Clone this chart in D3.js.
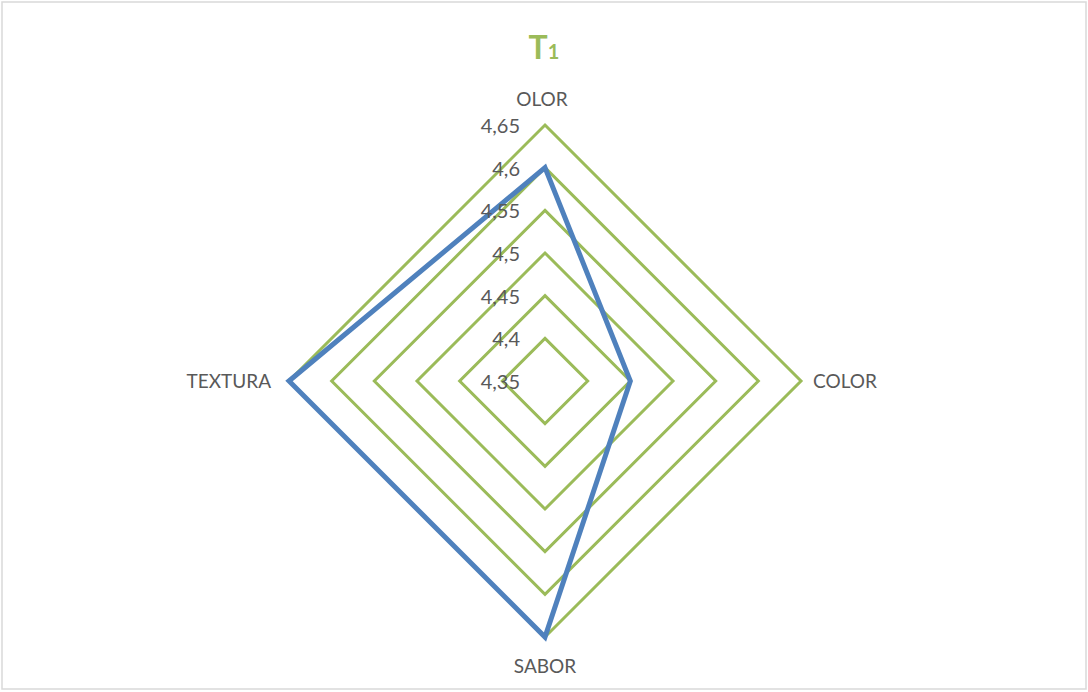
<!DOCTYPE html>
<meta charset="utf-8">
<head>
  <title>T1 radar</title>
</head>

<style>
body { margin: 0; background: white; }
text {
  font-family: Lato, "Open Sans", sans-serif;
  fill: #595959;
}
</style>

<body>
  <svg width="1088" height="692"></svg>

  <script src="https://cdnjs.cloudflare.com/ajax/libs/d3/7.8.5/d3.min.js"></script>
  <script>
var categories = ["OLOR", "COLOR", "SABOR", "TEXTURA"];
var values = [4.6, 4.45, 4.65, 4.65];
var ticks = [4.35, 4.4, 4.45, 4.5, 4.55, 4.6, 4.65];
var tickLabels = ["4,35", "4,4", "4,45", "4,5", "4,55", "4,6", "4,65"];

var svg = d3.select("svg");
var cx = 545, cy = 381, radius = 256;

// chart area border
svg.append("rect")
  .attr("x", 2).attr("y", 2)
  .attr("width", 1084).attr("height", 687)
  .attr("fill", "none")
  .attr("stroke", "#d9d9d9")
  .attr("stroke-width", 1.5);

var r = d3.scaleLinear().domain([4.35, 4.65]).range([0, radius]);
var angle = d3.scalePoint().domain(categories).range([0, 2 * Math.PI * 3 / 4]);

function pt(cat, v) {
  var a = angle(cat);
  return [cx + r(v) * Math.sin(a), cy - r(v) * Math.cos(a)];
}

var line = d3.line().curve(d3.curveLinearClosed);

// grid rings (no ring at the minimum)
svg.append("g")
  .selectAll("path")
  .data(ticks.slice(1))
  .enter()
  .append("path")
  .attr("d", function(t) { return line(categories.map(function(c) { return pt(c, t); })); })
  .attr("fill", "none")
  .attr("stroke", "#9bbb59")
  .attr("stroke-width", 3);

// data series
svg.append("path")
  .attr("d", line(categories.map(function(c, i) { return pt(c, values[i]); })))
  .attr("fill", "none")
  .attr("stroke", "#4f81bd")
  .attr("stroke-width", 5);

// tick labels along the top axis
svg.append("g")
  .selectAll("text")
  .data(ticks)
  .enter()
  .append("text")
  .attr("x", cx - 25)
  .attr("y", function(t) { return cy - r(t) + 8; })
  .attr("text-anchor", "end")
  .style("font-size", "20px")
  .text(function(t, i) { return tickLabels[i]; });

// category labels
var labelPos = {
  "OLOR": { dx: -3, dy: -19, anchor: "middle" },
  "COLOR": { dx: 12, dy: 7, anchor: "start" },
  "SABOR": { dx: 0, dy: 36, anchor: "middle" },
  "TEXTURA": { dx: -18, dy: 7, anchor: "end" }
};
svg.append("g")
  .selectAll("text")
  .data(categories)
  .enter()
  .append("text")
  .attr("x", function(c) { return pt(c, 4.65)[0] + labelPos[c].dx; })
  .attr("y", function(c) { return pt(c, 4.65)[1] + labelPos[c].dy; })
  .attr("text-anchor", function(c) { return labelPos[c].anchor; })
  .style("font-size", "19px")
  .text(function(c) { return c; });

// title
var title = svg.append("text")
  .attr("x", 544)
  .attr("y", 59)
  .attr("text-anchor", "middle")
  .style("font-size", "32px")
  .style("font-weight", "bold")
  .style("fill", "#9bbb59");
title.append("tspan").text("T");
title.append("tspan").style("font-size", "20px").text("1");
  </script>
</body>
</html>
